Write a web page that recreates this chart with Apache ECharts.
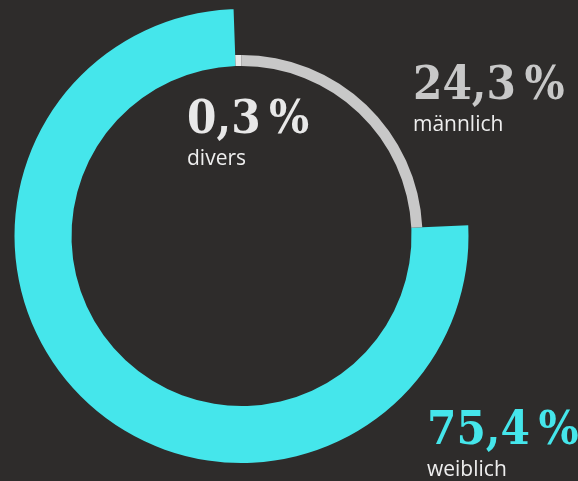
<!DOCTYPE html>
<html>
<head>
<meta charset="utf-8">
<script src="https://cdn.jsdelivr.net/npm/echarts@6/dist/echarts.min.js"></script>
<style>
html,body{margin:0;padding:0;background:#2e2c2b;}
#chart{width:578px;height:481px;}
</style>
</head>
<body>
<div id="chart"></div>
<script>
// Data (clockwise from top)
const categories = ['männlich', 'weiblich', 'divers'];
const values = [24.3, 75.4, 0.3];
const colors = ['#c8c8c8', '#45e6eb', '#e8e8e8'];

const fmt = v => v.toFixed(1).replace('.', ',') + '\u2009%';

const chart = echarts.init(document.getElementById('chart'), null, {renderer: 'canvas'});

function seriesFor(visibleIdx, radius) {
  return {
    type: 'pie',
    center: [241.5, 236],
    radius: radius,
    startAngle: 90,
    clockwise: true,
    minAngle: 2,
    avoidLabelOverlap: false,
    label: {show: false},
    labelLine: {show: false},
    silent: true,
    animation: false,
    itemStyle: {borderWidth: 0},
    data: categories.map((c, i) => ({
      name: c,
      value: values[i],
      itemStyle: {color: visibleIdx.includes(i) ? colors[i] : 'rgba(0,0,0,0)'}
    }))
  };
}

const numFont = 'bold 47px "DejaVu Serif Condensed", "DejaVu Serif", serif';
const lblFont = '21px "Open Sans", sans-serif';
const labelPos = {
  'männlich': {x: 413, y: 63, color: '#c8c8c8'},
  'divers': {x: 187, y: 97, color: '#e8e8e8'},
  'weiblich': {x: 427, y: 408, color: '#45e6eb'}
};
const graphics = [];
categories.forEach((c, i) => {
  const p = labelPos[c];
  graphics.push({
    type: 'text', left: p.x, top: p.y, silent: true,
    style: {text: fmt(values[i]), font: numFont, fill: p.color}
  });
  graphics.push({
    type: 'text', left: p.x, top: p.y + 52, silent: true,
    style: {text: c, font: lblFont, fill: '#eeeeee'}
  });
});

chart.setOption({
  backgroundColor: '#2e2c2b',
  animation: false,
  series: [
    seriesFor([1], [170, 227]),
    seriesFor([0, 2], [170, 181])
  ],
  graphic: graphics
});
</script>
</body>
</html>
